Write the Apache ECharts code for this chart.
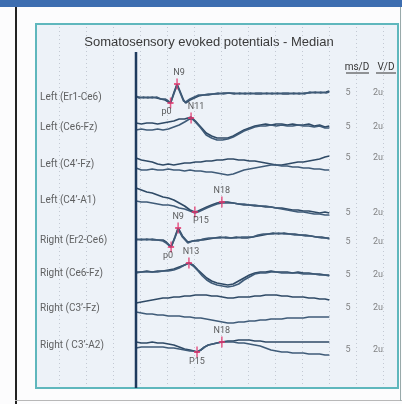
<!DOCTYPE html>
<html><head><meta charset="utf-8">
<script src="https://cdn.jsdelivr.net/npm/echarts@6/dist/echarts.min.js"></script>
<style>html,body{margin:0;padding:0;background:#fcfcfd}#c{width:402px;height:404px}</style>
</head><body><div id="c"></div><script>
// ---------------- DATA ----------------
const titleText = "Somatosensory evoked potentials - Median";
const channels = ["Left (Er1-Ce6)", "Left (Ce6-Fz)", "Left (C4\u2019-Fz)", "Left (C4\u2019-A1)",
                  "Right (Er2-Ce6)", "Right (Ce6-Fz)", "Right (C3\u2019-Fz)", "Right ( C3\u2019-A2)"];
const msPerDiv = ["5","5","5","5","5","5","5","5"];
const vPerDiv  = ["2u","2u","2u","2u","2u","2u","2u","2u"];
const colHeaders = ["ms/D", "V/D"];

// traces: [time ms, amplitude (up positive)]
const ch1a = [[0,1],[0.6,-1],[1.4,0],[2.2,-1],[3,0],[3.8,-1],[4.6,-2],[5.4,-3],[6,-5],[6.4,-6],[7,4],[7.6,13],[8.2,5],[8.8,-3],[9.2,-6],[10,-3],[10.8,-1],[11.6,1],[12.5,2],[13.4,2],[14.3,3],[15.2,3],[16.2,4],[17.2,4],[18.2,3],[19.2,4],[20.2,3],[21.2,4],[22.2,3],[23.2,3],[24.2,4],[25.2,3],[26.2,4],[27.2,3],[28.2,3],[29.2,4],[30.2,3],[31.2,4],[32.2,4],[33.2,5],[34.2,4],[35.2,5],[35.8,6]];
const ch1b = [[0,0],[0.6,0],[1.4,-1],[2.2,0],[3,-1],[3.8,0],[4.6,-2],[5.4,-2],[6,-4],[6.4,-6],[7,3],[7.6,12],[8.2,4],[8.8,-4],[9.2,-5],[10,-2],[10.8,0],[11.6,2],[12.5,2],[13.4,3],[14.3,3],[15.2,4],[16.2,3],[17.2,4],[18.2,4],[19.2,3],[20.2,4],[21.2,3],[22.2,4],[23.2,4],[24.2,3],[25.2,4],[26.2,3],[27.2,4],[28.2,4],[29.2,3],[30.2,4],[31.2,3],[32.2,5],[33.2,4],[34.2,5],[35.2,4],[35.8,5]];
const ch2a = [[0,4],[1,3],[2,4],[3,4],[4,3],[5,4],[6,5],[7,6],[8,8],[9,8],[10.2,10],[11,6],[12,0],[13,-6],[14,-9],[15,-11],[16,-11],[17,-11],[18,-9],[19,-6],[20,-3],[21,-1],[22,1],[23,2],[24,3],[25,2],[26,3],[27,3],[28,2],[29,3],[30,2],[31,2],[32,3],[33,1],[34,2],[35,0],[35.8,1]];
const ch2b = [[0,-3],[1,-2],[2,-3],[3,-3],[4,-2],[5,-3],[6,-2],[7,0],[8,2],[9,5],[10.2,9],[11,5],[12,-1],[13,-8],[14,-11],[15,-13],[16,-13],[17,-12],[18,-10],[19,-7],[20,-4],[21,-2],[22,0],[23,1],[24,1],[25,2],[26,1],[27,2],[28,1],[29,1],[30,2],[31,1],[32,1],[33,0],[34,1],[35,-1],[35.8,-1]];
const ch3a = [[0,6],[1,4],[2,3],[3,2],[4,0],[5,-1],[6,0],[7,-1],[8,0],[9,1],[10,1],[11,2],[12,2],[13,3],[14,3],[15,4],[16,4],[17,5],[18,5],[19,4],[20,4],[21,3],[22,3],[23,2],[24,1],[25,0],[26,-1],[27,-1],[28,0],[29,1],[30,2],[31,2],[32,3],[33,4],[34,5],[35,7],[35.8,8]];
const ch3b = [[0,-4],[1,-6],[2,-6],[3,-5],[4,-6],[5,-6],[6,-5],[7,-6],[8,-6],[9,-7],[10,-6],[11,-7],[12,-7],[13,-8],[14,-8],[15,-9],[16,-10],[17,-11],[18,-10],[19,-8],[20,-6],[21,-5],[22,-4],[23,-3],[24,-2],[25,-1],[26,-1],[27,-2],[28,-2],[29,-3],[30,-3],[31,-4],[32,-4],[33,-5],[34,-5],[35,-6],[35.8,-6]];
const ch4a = [[0,12],[1,10],[2,8],[3,7],[4,5],[5,3],[6,2],[7,0],[8,-3],[9,-6],[10,-10],[10.9,-12],[11.5,-11],[12.3,-9],[13.1,-7],[14,-5],[15,-3],[15.9,-2],[17,-2],[18,-3],[19,-4],[20,-5],[21,-5],[22,-6],[23,-6],[24,-7],[25,-7],[26,-8],[27,-8],[28,-9],[29,-10],[30,-10],[31,-11],[32,-11],[33,-12],[34,-13],[35,-12],[35.8,-13]];
const ch4b = [[0,-1],[1,-2],[2,-2],[3,-3],[4,-4],[5,-5],[6,-5],[7,-6],[8,-8],[9,-9],[10,-11],[10.9,-13],[11.5,-12],[12.3,-10],[13.1,-8],[14,-6],[15,-4],[15.9,-3],[17,-3],[18,-3],[19,-4],[20,-4],[21,-5],[22,-5],[23,-6],[24,-6],[25,-7],[26,-8],[27,-9],[28,-10],[29,-11],[30,-12],[31,-12],[32,-13],[33,-14],[34,-14],[35,-15],[35.8,-15]];
const ch5a = [[0,1],[1,0],[2,1],[3,0],[4,0],[5,0],[5.6,-2],[6.5,-7],[7.2,3],[7.8,12],[8.6,4],[9.6,-2],[10.5,-1],[11.5,0],[12.4,0],[13.5,1],[14.5,2],[15.6,3],[16.6,2],[17.6,2],[18.6,3],[19.6,2],[20.6,2],[21.6,3],[22.6,4],[23.6,5],[24.5,6],[25.4,7],[26.4,6],[27.4,7],[28.4,6],[29.4,6],[30.4,5],[31.4,5],[32.4,4],[33.4,3],[34.4,3],[35.2,2],[35.8,2]];
const ch5b = [[0,0],[1,1],[2,0],[3,1],[4,0],[5,-1],[5.6,-3],[6.5,-7],[7.2,2],[7.8,11],[8.6,3],[9.6,-3],[10.5,-1],[11.5,-1],[12.4,1],[13.5,2],[14.5,2],[15.6,2],[16.6,3],[17.6,2],[18.6,2],[19.6,3],[20.6,3],[21.6,3],[22.6,5],[23.6,6],[24.5,6],[25.4,6],[26.4,7],[27.4,6],[28.4,6],[29.4,5],[30.4,5],[31.4,4],[32.4,4],[33.4,3],[34.4,2],[35.2,2],[35.8,1]];
const ch6a = [[0,1],[1,1],[2,2],[3,1],[4,2],[5,2],[6,3],[7,4],[8,6],[9,8],[9.8,10],[10.6,8],[11.5,3],[12.3,-1],[13.1,-5],[14,-8],[15,-10],[16,-11],[17,-12],[18,-11],[19,-8],[20,-5],[21,-2],[22,0],[23,1],[24,1],[25,2],[26,1],[27,1],[28,1],[29,0],[30,1],[31,0],[32,0],[33,-1],[34,-1],[35,-2],[35.8,-2]];
const ch6b = [[0,0],[1,1],[2,1],[3,1],[4,1],[5,2],[6,2],[7,3],[8,5],[9,8],[9.8,10],[10.6,7],[11.5,2],[12.3,-3],[13.1,-7],[14,-10],[15,-12],[16,-13],[17,-14],[18,-13],[19,-11],[20,-7],[21,-4],[22,-1],[23,0],[24,0],[25,1],[26,1],[27,0],[28,0],[29,0],[30,0],[31,-1],[32,-1],[33,-1],[34,-2],[35,-2],[35.8,-3]];
const ch7a = [[0,5],[1,6],[2,7],[3,8],[4,9],[5,10],[6,10],[7,11],[8,11],[9,12],[10,12],[11,13],[12,13],[13,13],[14,12],[15,12],[16,11],[17,10],[18,10],[19,11],[20,11],[21,11],[22,12],[23,12],[24,13],[25,13],[26,13],[27,12],[28,12],[29,11],[30,11],[31,11],[32,10],[33,10],[34,9],[35,9],[35.8,8]];
const ch7b = [[0,-4],[1,-5],[2,-6],[3,-6],[4,-7],[5,-7],[6,-8],[7,-8],[8,-8],[9,-9],[10,-9],[11,-10],[12,-10],[13,-11],[14,-12],[15,-13],[16,-14],[17,-15],[18,-15],[19,-14],[20,-14],[21,-13],[22,-13],[23,-12],[24,-12],[25,-11],[26,-11],[27,-11],[28,-10],[29,-10],[30,-10],[31,-10],[32,-9],[33,-9],[34,-9],[35,-9],[35.8,-9]];
const ch8a = [[0,3],[1,2],[2,2],[3,3],[4,2],[5,2],[6,1],[7,0],[8,-2],[9,-4],[10,-5],[10.7,-6],[11.3,-7],[12,-5],[12.7,-2],[13.4,0],[14.2,1],[15,2],[15.9,3],[17,4],[18,4],[19,5],[20,5],[21,5],[22,4],[23,4],[24,3],[25,3],[26,3],[27,3],[28,3],[29,3],[30,3],[31,3],[32,3],[33,3],[34,3],[35,3],[35.8,3]];
const ch8b = [[0,-3],[1,-2],[2,-2],[3,-2],[4,-2],[5,-2],[6,-3],[7,-3],[8,-4],[9,-5],[10,-6],[10.7,-6],[11.3,-7],[12,-5],[12.7,-2],[13.4,0],[14.2,1],[15,2],[15.9,3],[17,3],[18,3],[19,2],[20,2],[21,1],[22,0],[23,-1],[24,-3],[25,-5],[26,-6],[27,-7],[28,-7],[29,-8],[30,-8],[31,-8],[32,-9],[33,-9],[34,-9],[35,-10],[35.8,-10]];
const traces = [[ch1a,ch1b],[ch2a,ch2b],[ch3a,ch3b],[ch4a,ch4b],[ch5a,ch5b],[ch6a,ch6b],[ch7a,ch7b],[ch8a,ch8b]];

// peak markers
const peakChannel = [0, 0, 1, 3, 3, 4, 4, 5, 7, 7];
const peakTime    = [6.4, 7.6, 10.2, 10.9, 15.9, 6.5, 7.8, 9.8, 11.3, 15.9];
const peakAmp     = [-6, 13, 9, -12, -2, -7, 12, 10, -7, 3];
const peakName    = ["p0","N9","N11","P15","N18","p0","N9","N13","P15","N18"];

// ---------------- LAYOUT ----------------
const PANEL = {left: 36, top: 24, width: 362, height: 364};
const STIM_X = 136, PX_PER_MS = 5.4;
const xMin = -(STIM_X - PANEL.left) / PX_PER_MS;
const xMax = xMin + PANEL.width / PX_PER_MS;
const toT = px => (px - STIM_X) / PX_PER_MS;      // pixel -> time for text placement
const rowBase = [97, 127, 164, 200, 240, 273, 308, 345].map(v => v - PANEL.top);
const colRow  = [93, 127, 158, 213, 242, 275, 308, 350].map(v => v - PANEL.top);
const labelOffsets = [[-4,-2],[2,0],[5,0],[6,-2],[0,0],[-3,-2],[0,0],[2,0],[0,-1],[0,0]];
const FONT = 'Roboto, "Liberation Sans", sans-serif';

const series = [];
const traceColors = ['#2f4a66', '#3f5b78'];
traces.forEach((pair, c) => {
  pair.forEach((tr, k) => {
    series.push({
      type: 'line', xAxisIndex: 0, yAxisIndex: 0, symbol: 'none', silent: true, z: 3,
      data: tr.map(([t, a]) => [t, rowBase[c] - a]),
      lineStyle: {color: traceColors[k], width: 1.7}
    });
  });
});
// stimulus line
series.push({
  type: 'line', xAxisIndex: 0, yAxisIndex: 0, symbol: 'none', silent: true, z: 4,
  data: [[0, 52 - PANEL.top], [0, PANEL.height]],
  lineStyle: {color: '#1f3b5e', width: 2.5}
});
// channel names
series.push({
  type: 'scatter', xAxisIndex: 0, yAxisIndex: 0, symbolSize: 0, silent: true,
  data: channels.map((n, i) => ({name: n, value: [toT(40), rowBase[i]]})),
  label: {show: true, position: 'right', distance: 0, formatter: '{b}',
          color: '#3a3a3a', fontSize: 10, fontFamily: FONT}
});
// ms/D and V/D values
series.push({
  type: 'scatter', xAxisIndex: 0, yAxisIndex: 0, symbolSize: 0, silent: true,
  data: msPerDiv.map((v, i) => ({name: v, value: [toT(348), colRow[i]]}))
    .concat(vPerDiv.map((v, i) => ({name: v, value: [toT(378), colRow[i]]}))),
  label: {show: true, position: 'inside', formatter: '{b}', color: '#666', fontSize: 9, fontFamily: FONT}
});
// peak markers
series.push({
  type: 'scatter', xAxisIndex: 0, yAxisIndex: 0, silent: true, z: 5,
  symbol: 'path://M4,0h2v12h-2z M1,5h8v2h-8z', symbolSize: [6, 11],
  itemStyle: {color: '#e2336b'},
  data: peakName.map((n, i) => ({
    name: n, value: [peakTime[i], rowBase[peakChannel[i]] - peakAmp[i]],
    label: {position: n[0] === 'N' ? 'top' : 'bottom', offset: labelOffsets[i]}
  })),
  label: {show: true, formatter: '{b}', distance: 1, color: '#333', fontSize: 9, fontFamily: FONT}
});

const option = {
  animation: false,
  backgroundColor: '#fcfcfd',
  grid: [
    {left: PANEL.left, top: PANEL.top, width: PANEL.width, height: PANEL.height, show: true,
     backgroundColor: '#edf2f8', borderColor: '#5fb7bd', borderWidth: 2},
    {left: 59, top: PANEL.top + 3, width: 324, height: PANEL.height - 4}
  ],
  xAxis: [
    {type: 'value', gridIndex: 0, min: xMin, max: xMax, show: false},
    {type: 'value', gridIndex: 1, min: 0, max: 12, interval: 1,
     axisLine: {show: false}, axisTick: {show: false}, axisLabel: {show: false},
     splitLine: {show: true, lineStyle: {color: '#c3c9d3', type: [1, 3], width: 1}}}
  ],
  yAxis: [
    {type: 'value', gridIndex: 0, min: 0, max: PANEL.height, inverse: true, show: false},
    {type: 'value', gridIndex: 1, min: 0, max: 1, show: false}
  ],
  graphic: [
    {type: 'rect', shape: {x: 0, y: 0, width: 402, height: 7}, style: {fill: '#3d6db0'}},
    {type: 'rect', shape: {x: 15, y: 7, width: 2, height: 397}, style: {fill: '#222'}},
    {type: 'rect', shape: {x: 15, y: 400, width: 387, height: 1}, style: {fill: '#b8b8b8'}},
    {type: 'rect', shape: {x: 400, y: 7, width: 1, height: 394}, style: {fill: '#9aa'}},
    {type: 'text', x: 209, y: 42, style: {text: titleText, textAlign: 'center', textVerticalAlign: 'middle',
      fill: '#3a3a3a', font: '13px "Liberation Sans", sans-serif'}},
    {type: 'text', x: 357, y: 67, style: {text: colHeaders[0], textAlign: 'center', textVerticalAlign: 'middle',
      fill: '#333', font: '10px Roboto, sans-serif'}},
    {type: 'text', x: 386, y: 67, style: {text: colHeaders[1], textAlign: 'center', textVerticalAlign: 'middle',
      fill: '#333', font: '10px Roboto, sans-serif'}},
    {type: 'line', shape: {x1: 346, y1: 73, x2: 369, y2: 73}, style: {stroke: '#333', lineWidth: 1}},
    {type: 'line', shape: {x1: 376, y1: 73, x2: 396, y2: 73}, style: {stroke: '#333', lineWidth: 1}}
  ],
  series: series
};
const chart = echarts.init(document.getElementById('c'));
chart.setOption(option);
</script></body></html>
